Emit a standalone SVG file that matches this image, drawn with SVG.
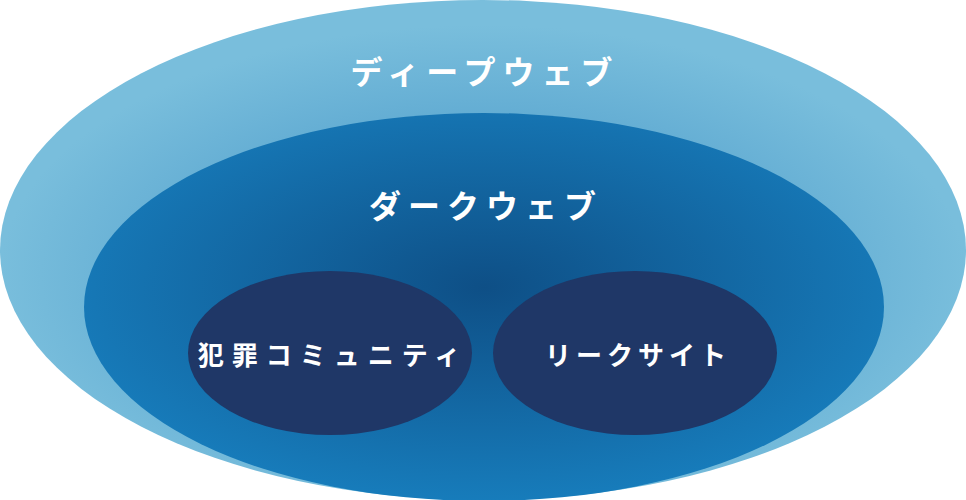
<svg xmlns="http://www.w3.org/2000/svg" width="966" height="500" viewBox="0 0 966 500">
<defs>
<radialGradient id="g1" cx="50%" cy="55%" r="50%"><stop offset="0" stop-color="#3d8fc4"/><stop offset="1" stop-color="#79bedc"/></radialGradient>
<radialGradient id="g2" cx="50%" cy="45%" r="55%"><stop offset="0" stop-color="#0e4f86"/><stop offset="1" stop-color="#177cbb"/></radialGradient>
<style>.t{fill:#fff;font-family:"Noto Sans CJK JP",sans-serif;font-weight:700;text-anchor:middle}.s{fill:#1f3767}</style>
</defs>
<g id="deep"><ellipse cx="483" cy="250" rx="483" ry="250" fill="url(#g1)"/><text class="t" x="485" y="84" font-size="32" letter-spacing="7">ディープウェブ</text></g>
<g id="dark"><ellipse cx="484" cy="307" rx="400" ry="194" fill="url(#g2)"/><text class="t" x="486" y="218" font-size="32" letter-spacing="7">ダークウェブ</text></g>
<g id="crime"><ellipse class="s" cx="330" cy="353" rx="142" ry="82"/><text class="t" x="333" y="365" font-size="26" letter-spacing="8">犯罪コミュニティ</text></g>
<g id="leak"><ellipse class="s" cx="635" cy="353" rx="142" ry="82"/><text class="t" x="638" y="365" font-size="26" letter-spacing="5">リークサイト</text></g>
<g id="connectors"/>
</svg>
